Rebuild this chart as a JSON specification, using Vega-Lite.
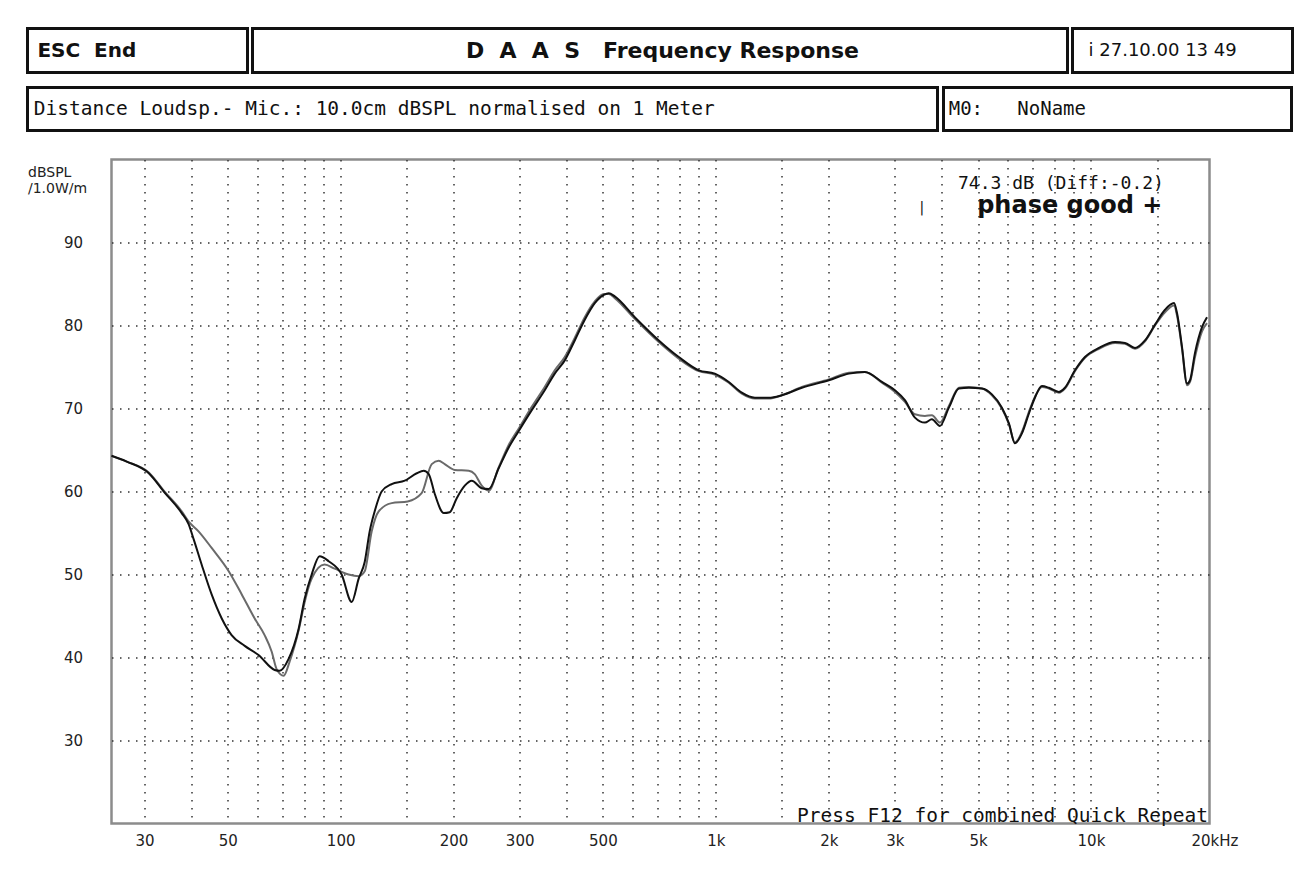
{
  "$schema": "https://vega.github.io/schema/vega-lite/v6.json",
  "background": "white",
  "padding": {"left": 25.5, "top": 26.5, "right": 5, "bottom": 5},
  "spacing": 25,
  "config": {"view": {"stroke": null}, "font": "DejaVu Sans"},
  "vconcat": [
    {
      "spacing": 11,
      "vconcat": [
        {
          "spacing": 1,
          "hconcat": [
            {
              "width": 220, "height": 44,
              "view": {"stroke": "#111", "strokeWidth": 3},
              "data": {"values": [{"label": "ESC\u00a0\u00a0End"}]},
              "mark": {"type": "text", "align": "left", "baseline": "middle", "font": "DejaVu Sans", "fontWeight": "bold", "fontSize": 20, "color": "#111"},
              "encoding": {
                "text": {"field": "label"},
                "x": {"datum": 0.045, "type": "quantitative", "scale": {"domain": [0, 1]}, "axis": null},
                "y": {"datum": 0.5, "type": "quantitative", "scale": {"domain": [0, 1]}, "axis": null}
              }
            },
            {
              "width": 815, "height": 44,
              "view": {"stroke": "#111", "strokeWidth": 3},
              "data": {"values": [{"label": "D\u00a0\u00a0A\u00a0\u00a0A\u00a0\u00a0S\u00a0\u00a0\u00a0Frequency Response"}]},
              "mark": {"type": "text", "align": "center", "baseline": "middle", "font": "DejaVu Sans", "fontWeight": "bold", "fontSize": 22, "color": "#111"},
              "encoding": {
                "text": {"field": "label"},
                "x": {"datum": 0.503, "type": "quantitative", "scale": {"domain": [0, 1]}, "axis": null},
                "y": {"datum": 0.5, "type": "quantitative", "scale": {"domain": [0, 1]}, "axis": null}
              }
            },
            {
              "width": 220, "height": 44,
              "view": {"stroke": "#111", "strokeWidth": 3},
              "data": {"values": [{"label": "i 27.10.00 13 49"}]},
              "mark": {"type": "text", "align": "left", "baseline": "middle", "font": "DejaVu Sans", "fontSize": 18, "color": "#111"},
              "encoding": {
                "text": {"field": "label"},
                "x": {"datum": 0.073, "type": "quantitative", "scale": {"domain": [0, 1]}, "axis": null},
                "y": {"datum": 0.5, "type": "quantitative", "scale": {"domain": [0, 1]}, "axis": null}
              }
            }
          ]
        },
        {
          "spacing": 2,
          "hconcat": [
            {
              "width": 910, "height": 43,
              "view": {"stroke": "#111", "strokeWidth": 3},
              "data": {"values": [{"label": "Distance Loudsp.- Mic.: 10.0cm dBSPL normalised on 1 Meter"}]},
              "mark": {"type": "text", "align": "left", "baseline": "middle", "font": "DejaVu Sans Mono", "fontSize": 19.5, "color": "#111"},
              "encoding": {
                "text": {"field": "label"},
                "x": {"datum": 0.007, "type": "quantitative", "scale": {"domain": [0, 1]}, "axis": null},
                "y": {"datum": 0.5, "type": "quantitative", "scale": {"domain": [0, 1]}, "axis": null}
              }
            },
            {
              "width": 348, "height": 43,
              "view": {"stroke": "#111", "strokeWidth": 3},
              "data": {"values": [{"label": "M0:\u00a0\u00a0 NoName"}]},
              "mark": {"type": "text", "align": "left", "baseline": "middle", "font": "DejaVu Sans Mono", "fontSize": 19, "color": "#111"},
              "encoding": {
                "text": {"field": "label"},
                "x": {"datum": 0.015, "type": "quantitative", "scale": {"domain": [0, 1]}, "axis": null},
                "y": {"datum": 0.5, "type": "quantitative", "scale": {"domain": [0, 1]}, "axis": null}
              }
            }
          ]
        }
      ]
    },
    {
      "spacing": 0,
      "hconcat": [
        {
          "width": 78, "height": 664,
          "view": {"stroke": null, "fill": "white"},
          "data": {"values": []},
          "mark": {"type": "point"},
          "encoding": {
            "y": {
              "field": "db", "type": "quantitative",
              "scale": {"domain": [20, 100], "nice": false, "zero": false},
              "axis": {
                "orient": "right",
                "values": [30,40,50,60,70,80,90],
                "grid": false,
                "ticks": false,
                "domain": false,
                "labelAlign": "right",
                "labelPadding": -23,
                "labelFont": "DejaVu Sans",
                "labelFontSize": 15,
                "labelColor": "#222",
                "title": ["\u00a0\u00a0dBSPL", "/1.0W/m"],
                "titleAngle": 0,
                "titleAlign": "left",
                "titleBaseline": "top",
                "titleX": -78,
                "titleY": 6,
                "titleFont": "DejaVu Sans",
                "titleFontSize": 14,
                "titleFontWeight": "normal",
                "titleColor": "#222",
                "titleLineHeight": 16
              }
            }
          }
        },
        {
          "width": 1098, "height": 664,
          "view": {"stroke": "#8c8c8c", "strokeWidth": 2.5},
          "layer": [
            {
              "data": {"values": [
                {"f":24.5,"db":64.3,"c":"B"},{"f":26.9,"db":63.6,"c":"B"},{"f":30.8,"db":62.3,"c":"B"},{"f":33.9,"db":60.0,"c":"B"},{"f":37.7,"db":57.6,"c":"B"},{"f":39.3,"db":56.4,"c":"B"},{"f":41.8,"db":55.2,"c":"B"},{"f":45.3,"db":53.2,"c":"B"},{"f":50.3,"db":50.4,"c":"B"},{"f":54.5,"db":47.6,"c":"B"},{"f":59.0,"db":44.7,"c":"B"},{"f":62.7,"db":42.7,"c":"B"},{"f":65.5,"db":40.7,"c":"B"},{"f":67.5,"db":38.6,"c":"B"},{"f":70.5,"db":37.8,"c":"B"},{"f":73.1,"db":39.5,"c":"B"},{"f":77.3,"db":43.3,"c":"B"},{"f":80.2,"db":46.7,"c":"B"},{"f":83.7,"db":49.5,"c":"B"},{"f":90.6,"db":51.2,"c":"B"},{"f":96.4,"db":50.7,"c":"B"},{"f":105,"db":50.0,"c":"B"},{"f":111.7,"db":49.8,"c":"B"},{"f":115.9,"db":50.4,"c":"B"},{"f":121,"db":55.2,"c":"B"},{"f":126.3,"db":57.6,"c":"B"},{"f":136.8,"db":58.6,"c":"B"},{"f":150.9,"db":58.8,"c":"B"},{"f":164.4,"db":59.8,"c":"B"},{"f":174.9,"db":63.3,"c":"B"},{"f":182.5,"db":63.7,"c":"B"},{"f":189.4,"db":63.3,"c":"B"},{"f":201.4,"db":62.6,"c":"B"},{"f":219.5,"db":62.5,"c":"B"},{"f":227.7,"db":62.1,"c":"B"},{"f":237.7,"db":60.7,"c":"B"},{"f":248.2,"db":60.1,"c":"B"},{"f":263.8,"db":62.9,"c":"B"},{"f":280.5,"db":65.6,"c":"B"},{"f":298.4,"db":67.6,"c":"B"},{"f":323.1,"db":70.2,"c":"B"},{"f":349.9,"db":72.6,"c":"B"},{"f":372.1,"db":74.6,"c":"B"},{"f":395.7,"db":76.2,"c":"B"},{"f":420.7,"db":78.5,"c":"B"},{"f":447.4,"db":81.0,"c":"B"},{"f":475.8,"db":82.9,"c":"B"},{"f":502.8,"db":83.8,"c":"B"},{"f":518.4,"db":83.8,"c":"B"},{"f":537.9,"db":83.3,"c":"B"},{"f":608.1,"db":80.8,"c":"B"},{"f":704.7,"db":78.0,"c":"B"},{"f":796.8,"db":76.0,"c":"B"},{"f":901,"db":74.5,"c":"B"},{"f":993.8,"db":74.1,"c":"B"},{"f":1083,"db":73.1,"c":"B"},{"f":1173,"db":71.8,"c":"B"},{"f":1271,"db":71.2,"c":"B"},{"f":1384,"db":71.2,"c":"B"},{"f":1500,"db":71.6,"c":"B"},{"f":1696,"db":72.6,"c":"B"},{"f":2001,"db":73.5,"c":"B"},{"f":2263,"db":74.3,"c":"B"},{"f":2496,"db":74.4,"c":"B"},{"f":2772,"db":73.1,"c":"B"},{"f":3002,"db":72.0,"c":"B"},{"f":3192,"db":70.8,"c":"B"},{"f":3395,"db":69.3,"c":"B"},{"f":3609,"db":69.1,"c":"B"},{"f":3767,"db":69.2,"c":"B"},{"f":3957,"db":68.3,"c":"B"},{"f":4181,"db":70.3,"c":"B"},{"f":4446,"db":72.5,"c":"B"},{"f":4728,"db":72.6,"c":"B"},{"f":5121,"db":72.4,"c":"B"},{"f":5445,"db":71.6,"c":"B"},{"f":5790,"db":70.0,"c":"B"},{"f":6044,"db":68.1,"c":"B"},{"f":6270,"db":65.9,"c":"B"},{"f":6546,"db":67.2,"c":"B"},{"f":6833,"db":69.6,"c":"B"},{"f":7089,"db":71.4,"c":"B"},{"f":7403,"db":72.6,"c":"B"},{"f":7727,"db":72.4,"c":"B"},{"f":8216,"db":71.9,"c":"B"},{"f":8522,"db":72.4,"c":"B"},{"f":9064,"db":74.5,"c":"B"},{"f":9638,"db":76.1,"c":"B"},{"f":10503,"db":77.2,"c":"B"},{"f":11588,"db":77.9,"c":"B"},{"f":12322,"db":77.8,"c":"B"},{"f":13104,"db":77.2,"c":"B"},{"f":13932,"db":78.1,"c":"B"},{"f":14815,"db":80.0,"c":"B"},{"f":15752,"db":81.6,"c":"B"},{"f":16648,"db":82.4,"c":"B"},{"f":16958,"db":81.2,"c":"B"},{"f":17487,"db":77.2,"c":"B"},{"f":18030,"db":72.8,"c":"B"},{"f":18365,"db":73.2,"c":"B"},{"f":18937,"db":76.2,"c":"B"},{"f":19770,"db":79.3,"c":"B"},{"f":20386,"db":80.3,"c":"B"},
                {"f":24.5,"db":64.3,"c":"A"},{"f":26.9,"db":63.6,"c":"A"},{"f":30.8,"db":62.2,"c":"A"},{"f":33.9,"db":59.9,"c":"A"},{"f":37.7,"db":57.4,"c":"A"},{"f":39.3,"db":56.1,"c":"A"},{"f":40.6,"db":54.2,"c":"A"},{"f":42.6,"db":51.2,"c":"A"},{"f":45.3,"db":47.6,"c":"A"},{"f":48.2,"db":44.7,"c":"A"},{"f":51.2,"db":42.7,"c":"A"},{"f":55.5,"db":41.4,"c":"A"},{"f":60.4,"db":40.3,"c":"A"},{"f":66.7,"db":38.5,"c":"A"},{"f":68.8,"db":38.4,"c":"A"},{"f":72.6,"db":39.8,"c":"A"},{"f":77.3,"db":43.5,"c":"A"},{"f":80.2,"db":47.1,"c":"A"},{"f":83.7,"db":50.0,"c":"A"},{"f":87.9,"db":52.2,"c":"A"},{"f":92.9,"db":51.6,"c":"A"},{"f":100.6,"db":50.0,"c":"A"},{"f":107,"db":46.7,"c":"A"},{"f":111.7,"db":49.5,"c":"A"},{"f":115.9,"db":51.5,"c":"A"},{"f":119.5,"db":55.2,"c":"A"},{"f":123.2,"db":57.6,"c":"A"},{"f":128.6,"db":60.0,"c":"A"},{"f":136.8,"db":60.9,"c":"A"},{"f":148.2,"db":61.3,"c":"A"},{"f":159.5,"db":62.2,"c":"A"},{"f":166.5,"db":62.5,"c":"A"},{"f":171.7,"db":62.1,"c":"A"},{"f":178.2,"db":59.7,"c":"A"},{"f":188.3,"db":57.4,"c":"A"},{"f":195.3,"db":57.5,"c":"A"},{"f":203.9,"db":59.2,"c":"A"},{"f":214.2,"db":60.7,"c":"A"},{"f":223.6,"db":61.3,"c":"A"},{"f":237.7,"db":60.4,"c":"A"},{"f":248.2,"db":60.3,"c":"A"},{"f":263.8,"db":62.8,"c":"A"},{"f":280.5,"db":65.3,"c":"A"},{"f":298.4,"db":67.3,"c":"A"},{"f":323.1,"db":69.8,"c":"A"},{"f":349.9,"db":72.2,"c":"A"},{"f":372.1,"db":74.2,"c":"A"},{"f":395.7,"db":75.8,"c":"A"},{"f":420.7,"db":78.2,"c":"A"},{"f":447.4,"db":80.7,"c":"A"},{"f":475.8,"db":82.7,"c":"A"},{"f":502.8,"db":83.7,"c":"A"},{"f":518.4,"db":83.9,"c":"A"},{"f":537.9,"db":83.5,"c":"A"},{"f":608.1,"db":81.0,"c":"A"},{"f":704.7,"db":78.2,"c":"A"},{"f":796.8,"db":76.2,"c":"A"},{"f":901,"db":74.6,"c":"A"},{"f":993.8,"db":74.2,"c":"A"},{"f":1083,"db":73.2,"c":"A"},{"f":1173,"db":71.9,"c":"A"},{"f":1271,"db":71.3,"c":"A"},{"f":1384,"db":71.3,"c":"A"},{"f":1500,"db":71.6,"c":"A"},{"f":1696,"db":72.5,"c":"A"},{"f":2001,"db":73.4,"c":"A"},{"f":2263,"db":74.2,"c":"A"},{"f":2496,"db":74.4,"c":"A"},{"f":2772,"db":73.2,"c":"A"},{"f":3002,"db":72.2,"c":"A"},{"f":3192,"db":71.0,"c":"A"},{"f":3395,"db":68.9,"c":"A"},{"f":3609,"db":68.3,"c":"A"},{"f":3767,"db":68.7,"c":"A"},{"f":3957,"db":67.9,"c":"A"},{"f":4181,"db":70.1,"c":"A"},{"f":4446,"db":72.4,"c":"A"},{"f":4728,"db":72.5,"c":"A"},{"f":5121,"db":72.4,"c":"A"},{"f":5445,"db":71.7,"c":"A"},{"f":5790,"db":70.1,"c":"A"},{"f":6044,"db":68.2,"c":"A"},{"f":6270,"db":65.8,"c":"A"},{"f":6546,"db":67.0,"c":"A"},{"f":6833,"db":69.4,"c":"A"},{"f":7089,"db":71.3,"c":"A"},{"f":7403,"db":72.7,"c":"A"},{"f":7727,"db":72.5,"c":"A"},{"f":8216,"db":72.0,"c":"A"},{"f":8522,"db":72.5,"c":"A"},{"f":9064,"db":74.6,"c":"A"},{"f":9638,"db":76.2,"c":"A"},{"f":10503,"db":77.3,"c":"A"},{"f":11588,"db":78.0,"c":"A"},{"f":12322,"db":77.9,"c":"A"},{"f":13104,"db":77.3,"c":"A"},{"f":13932,"db":78.2,"c":"A"},{"f":14815,"db":80.1,"c":"A"},{"f":15752,"db":81.9,"c":"A"},{"f":16648,"db":82.7,"c":"A"},{"f":16958,"db":81.5,"c":"A"},{"f":17487,"db":77.4,"c":"A"},{"f":18030,"db":73.0,"c":"A"},{"f":18365,"db":73.4,"c":"A"},{"f":18937,"db":76.7,"c":"A"},{"f":19770,"db":79.8,"c":"A"},{"f":20386,"db":81.0,"c":"A"}
              ]},
              "mark": {"type": "line", "strokeWidth": 2, "interpolate": "monotone"},
              "encoding": {
                "x": {
                  "field": "f", "type": "quantitative",
                  "scale": {"type": "log", "domain": [24.5, 20700], "nice": false},
                  "axis": {
                    "title": null,
                    "values": [30,40,50,60,70,80,90,100,150,200,300,400,500,600,700,800,900,1000,1500,2000,3000,4000,5000,6000,7000,8000,9000,10000,15000,20000],
                    "labelExpr": "datum.value == 20000 ? '20kHz' : (datum.value == 1000 || datum.value == 2000 || datum.value == 3000 || datum.value == 5000 || datum.value == 10000) ? (datum.value / 1000) + 'k' : (datum.value == 30 || datum.value == 50 || datum.value == 100 || datum.value == 200 || datum.value == 300 || datum.value == 500) ? '' + datum.value : ''",
                    "labelOverlap": false,
                    "labelFlush": false,
                    "labelAlign": {"condition": {"test": "datum.value >= 20000", "value": "left"}, "value": "center"},
                    "labelOffset": {"condition": {"test": "datum.value >= 20000", "value": -13}, "value": 0},
                    "labelBaseline": "top",
                    "labelPadding": 10,
                    "labelFont": "DejaVu Sans",
                    "labelFontSize": 15,
                    "labelColor": "#222",
                    "grid": true,
                    "gridColor": "#333",
                    "gridWidth": 1.5,
                    "gridDash": [1.5, 6.5],
                    "gridOpacity": {"condition": {"test": "datum.value >= 20000", "value": 0}, "value": 1},
                    "ticks": false,
                    "domain": false
                  }
                },
                "y": {
                  "field": "db", "type": "quantitative",
                  "scale": {"domain": [20, 100], "nice": false, "zero": false},
                  "axis": {
                    "values": [30,40,50,60,70,80,90],
                    "grid": true,
                    "gridColor": "#333",
                    "gridWidth": 1.5,
                    "gridDash": [1.5, 6.5],
                    "ticks": false,
                    "domain": false,
                    "labels": false,
                    "title": null
                  }
                },
                "color": {"field": "c", "type": "nominal", "scale": {"domain": ["A", "B"], "range": ["#111111", "#6a6a6a"]}, "legend": null}
              }
            },
            {
              "data": {"values": [{"label": "74.3 dB (Diff:-0.2)"}]},
              "mark": {"type": "text", "align": "right", "baseline": "middle", "font": "DejaVu Sans Mono", "fontSize": 18, "color": "#111"},
              "encoding": {
                "x": {"datum": 15650, "type": "quantitative", "scale": {"type": "log", "domain": [24.5, 20700], "nice": false}},
                "y": {"datum": 97.0, "type": "quantitative", "scale": {"domain": [20, 100], "nice": false, "zero": false}},
                "text": {"field": "label"}
              }
            },
            {
              "data": {"values": [{"label": "phase good +"}]},
              "mark": {"type": "text", "align": "right", "baseline": "middle", "font": "DejaVu Sans", "fontWeight": "bold", "fontSize": 24, "color": "#111"},
              "encoding": {
                "x": {"datum": 15500, "type": "quantitative", "scale": {"type": "log", "domain": [24.5, 20700], "nice": false}},
                "y": {"datum": 94.4, "type": "quantitative", "scale": {"domain": [20, 100], "nice": false, "zero": false}},
                "text": {"field": "label"}
              }
            },
            {
              "data": {"values": [{"label": "|"}]},
              "mark": {"type": "text", "align": "center", "baseline": "middle", "font": "DejaVu Sans", "fontSize": 14, "color": "#111"},
              "encoding": {
                "x": {"datum": 3540, "type": "quantitative", "scale": {"type": "log", "domain": [24.5, 20700], "nice": false}},
                "y": {"datum": 94.2, "type": "quantitative", "scale": {"domain": [20, 100], "nice": false, "zero": false}},
                "text": {"field": "label"}
              }
            },
            {
              "data": {"values": [{"label": "Press F12 for combined Quick Repeat"}]},
              "mark": {"type": "text", "align": "right", "baseline": "middle", "font": "DejaVu Sans Mono", "fontSize": 19.5, "color": "#111"},
              "encoding": {
                "x": {"datum": 20500, "type": "quantitative", "scale": {"type": "log", "domain": [24.5, 20700], "nice": false}},
                "y": {"datum": 20.9, "type": "quantitative", "scale": {"domain": [20, 100], "nice": false, "zero": false}},
                "text": {"field": "label"}
              }
            }
          ]
        }
      ]
    }
  ]
}
